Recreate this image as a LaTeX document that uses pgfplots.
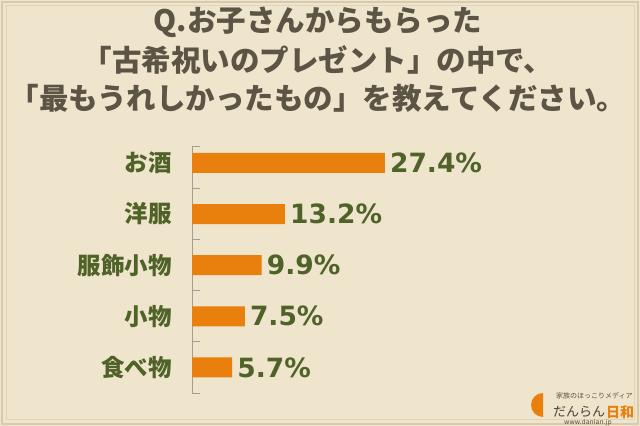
\documentclass[border=0pt]{standalone}
\usepackage{pgfplots}
\pgfplotsset{compat=1.18}
\usepackage{fontspec}
\newfontfamily\jp{Noto Sans CJK JP}
\newfontfamily\num{DejaVu Sans}
\definecolor{bg}{HTML}{EFE4CC}
\definecolor{titlec}{HTML}{5C5444}
\definecolor{olive}{HTML}{4F6228}
\definecolor{barc}{HTML}{E97F0D}
\definecolor{axisgray}{HTML}{A39E92}
\definecolor{framec}{HTML}{D8CAAE}
\begin{document}
\begin{tikzpicture}
\useasboundingbox (0bp,0bp) rectangle (640bp,426bp);
\fill[bg] (0bp,0bp) rectangle (640bp,426bp);
\draw[framec, line width=1.2bp] (2bp,2bp) rectangle (638bp,424bp);
\draw[framec!60!bg, line width=1bp] (6bp,6bp) rectangle (634bp,420bp);
% title
\node[text=titlec, font=\jp\bfseries\fontsize{29.5bp}{32bp}\selectfont] at (318bp,404bp) {Q.お子さんからもらった};
\node[text=titlec, font=\jp\bfseries\fontsize{29.5bp}{32bp}\selectfont] at (318bp,366bp) {「古希祝いのプレゼント」の中で、};
\node[text=titlec, font=\jp\bfseries\fontsize{29.5bp}{32bp}\selectfont] at (318bp,328bp) {「最もうれしかったもの」を教えてください。};
\begin{axis}[
  at={(192bp,33bp)}, anchor=south west,
  scale only axis, width=281.6bp, height=247bp,
  xmin=0, xmax=40,
  ymin=-0.33, ymax=4.5, y dir=reverse,
  hide x axis,
  axis y line*=left,
  y axis line style={-, draw=axisgray, line width=0.8bp},
  xbar, bar width=20bp, bar shift=0pt,
  ytick={0,1,2,3,4},
  yticklabels={お酒,洋服,服飾小物,小物,食べ物},
  major tick length=0pt,
  y tick label style={font=\jp\bfseries\fontsize{23.5bp}{26bp}\selectfont, text=olive, inner sep=0pt, xshift=-20bp},
  extra y ticks={-0.33,0.5,1.5,2.5,3.5,4.5},
  extra y tick labels={},
  extra y tick style={major tick length=8bp, tick align=inside, tick style={draw=axisgray, line width=0.8bp}},
  point meta=explicit symbolic,
  nodes near coords={\pgfplotspointmeta\%},
  nodes near coords align=horizontal,
  every node near coord/.append style={anchor=west, inner sep=0pt, xshift=5bp, font=\num\bfseries\fontsize{26.5bp}{30bp}\selectfont, text=olive},
]
\addplot[fill=barc, draw=none] coordinates {(27.4,0)[27.4] (13.2,1)[13.2] (9.9,2)[9.9] (7.5,3)[7.5] (5.7,4)[5.7]};
\end{axis}
% logo
\fill[barc] (543bp,9bp) arc[start angle=270, end angle=90, radius=12bp] -- cycle;
\node[anchor=west, text=titlec, font=\jp\fontsize{7bp}{8bp}\selectfont, inner sep=0pt] at (556bp,30bp) {家族のほっこりメディア};
\node[anchor=west, text=titlec!80!black, font=\jp\fontsize{13bp}{15bp}\selectfont, inner sep=0pt] at (553bp,14bp) {だんらん};
\node[anchor=west, text=barc, font=\jp\bfseries\fontsize{14bp}{16bp}\selectfont, inner sep=0pt] at (606bp,14bp) {日和};
\node[anchor=west, text=titlec, font=\num\fontsize{6.5bp}{8bp}\selectfont, inner sep=0pt] at (564bp,3.5bp) {www.danlan.jp};
\end{tikzpicture}
\end{document}
